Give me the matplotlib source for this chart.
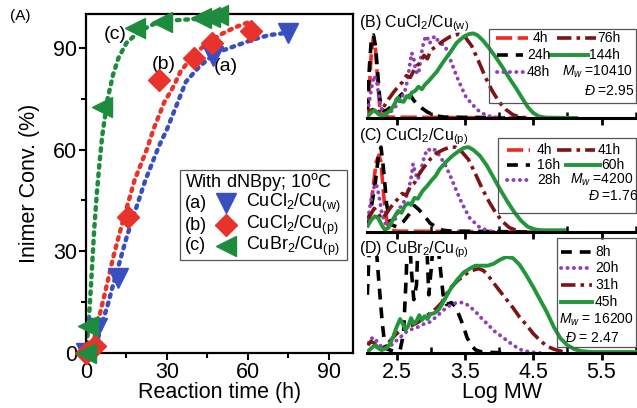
import matplotlib
matplotlib.use("Agg")
import matplotlib.pyplot as plt
from matplotlib.patches import Rectangle
from matplotlib.ticker import MultipleLocator

plt.rcParams['font.family'] = ['Liberation Sans', 'DejaVu Sans']
plt.rcParams['mathtext.fontset'] = 'custom'
plt.rcParams['mathtext.rm'] = 'Liberation Sans'
plt.rcParams['mathtext.it'] = 'Liberation Sans:italic'
plt.rcParams['mathtext.default'] = 'regular'

# ---------------- panel A: conversion vs time ----------------
t_a = [0, 4, 12, 47, 75]
conv_a = [0, 7.5, 22, 87.5, 94.5]
t_b = [0, 3.5, 15.5, 27, 40, 46.5, 61]
conv_b = [0, 2, 40, 80.5, 87, 91.5, 95]
t_c = [0, 0.8, 6, 18, 28, 42.5, 46, 49]
conv_c = [0, 8, 72.5, 96, 97.5, 98.8, 99.2, 99.6]

fit_t_a = [2, 4, 6, 8, 10, 12.5, 15, 17, 19.5, 22, 25, 27, 30, 33, 37, 42, 48, 55, 62, 68, 75]
fit_a = [0, 3, 9, 14, 20, 27, 34, 39, 45, 51, 57, 61, 66, 72, 80, 84.5, 88.5, 90.5, 92.5, 93.8, 94.5]
fit_t_b = [0, 3, 5, 8, 10, 13, 15.5, 18, 20, 22.5, 25, 29, 32, 35, 40, 45, 50, 55, 60]
fit_b = [0, 4, 11, 21, 28, 37, 44, 51, 55, 60, 66, 74, 78, 83, 88, 91.5, 94, 96, 97.5]
fit_t_c = [0, 1, 2, 3, 4, 5, 6, 8, 10, 12, 15, 20, 25, 30, 40, 49]
fit_c = [0, 9, 22, 36, 47, 56, 64, 75, 82, 87, 91.5, 95, 97, 98, 98.5, 99]

# ---------------- panel B: CuCl2/Cu(w) GPC traces ----------------
B_4h_x = [2.07, 2.10, 2.13, 2.16, 2.19, 2.22, 2.25, 2.29, 2.40, 4.45]
B_4h_y = [0.05, 0.35, 0.80, 0.95, 0.80, 0.45, 0.15, 0.03, 0.01, 0.0]
B_24h_x = [2.07, 2.10, 2.13, 2.16, 2.19, 2.22, 2.25, 2.28, 2.33, 2.40, 2.48, 2.56, 2.63,
           2.68, 2.74, 2.80, 2.88, 2.95, 3.05, 3.20, 4.45]
B_24h_y = [0.10, 0.60, 0.95, 0.98, 0.85, 0.55, 0.25, 0.10, 0.08, 0.12, 0.20, 0.27, 0.32,
           0.30, 0.22, 0.16, 0.11, 0.07, 0.03, 0.01, 0.0]
B_48h_x = [2.09, 2.13, 2.17, 2.21, 2.25, 2.29, 2.35, 2.42, 2.50, 2.56, 2.62, 2.66, 2.69,
           2.72, 2.75, 2.78, 2.82, 2.86, 2.90, 2.94, 2.98, 3.02, 3.06, 3.10, 3.15, 3.21,
           3.30, 3.38, 3.45, 3.52, 3.62, 3.72, 3.82, 3.92, 4.05]
B_48h_y = [0.15, 0.35, 0.50, 0.42, 0.20, 0.08, 0.05, 0.08, 0.15, 0.22, 0.32, 0.45, 0.62,
           0.77, 0.70, 0.55, 0.52, 0.75, 0.92, 0.97, 0.88, 0.93, 0.97, 0.92, 0.88, 0.85,
           0.66, 0.49, 0.36, 0.24, 0.15, 0.07, 0.03, 0.01, 0.0]
B_76h_x = [2.08, 2.15, 2.22, 2.30, 2.38, 2.45, 2.52, 2.58, 2.64, 2.70, 2.75, 2.80, 2.85,
           2.90, 2.95, 3.00, 3.08, 3.18, 3.28, 3.40, 3.50, 3.60, 3.70, 3.80, 3.90, 4.00,
           4.10, 4.20, 4.30, 4.45]
B_76h_y = [0.08, 0.10, 0.06, 0.12, 0.22, 0.30, 0.37, 0.42, 0.50, 0.48, 0.56, 0.62, 0.66,
           0.74, 0.70, 0.80, 0.85, 0.91, 0.96, 0.99, 0.96, 0.85, 0.67, 0.48, 0.32, 0.19,
           0.10, 0.04, 0.01, 0.0]
B_144h_x = [2.08, 2.13, 2.18, 2.24, 2.30, 2.36, 2.42, 2.47, 2.52, 2.56, 2.60, 2.65, 2.69,
            2.72, 2.77, 2.82, 2.87, 2.91, 2.96, 3.09, 3.18, 3.28, 3.38, 3.48, 3.55, 3.62,
            3.68, 3.76, 3.85, 3.95, 4.05, 4.15, 4.25, 4.35, 4.42, 4.50, 4.58, 4.68, 5.13]
B_144h_y = [0.02, 0.07, 0.09, 0.04, 0.02, 0.06, 0.10, 0.17, 0.24, 0.20, 0.19, 0.26, 0.24,
            0.30, 0.32, 0.37, 0.34, 0.39, 0.43, 0.55, 0.66, 0.77, 0.89, 0.96, 0.99, 1.00,
            0.98, 0.92, 0.83, 0.72, 0.60, 0.47, 0.35, 0.22, 0.13, 0.06, 0.02, 0.005, 0.0]

# ---------------- panel C: CuCl2/Cu(p) ----------------
C_4h_x = [2.07, 2.12, 2.16, 2.20, 2.24, 2.27, 2.30, 2.33, 2.37, 2.42, 2.50, 4.50]
C_4h_y = [0.05, 0.25, 0.55, 0.80, 0.88, 0.80, 0.50, 0.25, 0.08, 0.02, 0.01, 0.0]
C_16h_x = [2.07, 2.12, 2.18, 2.23, 2.27, 2.30, 2.33, 2.35, 2.39, 2.43, 2.50, 2.60, 2.70,
           2.76, 2.82, 2.89, 2.99, 3.09, 3.18, 3.30, 4.50]
C_16h_y = [0.10, 0.25, 0.52, 0.85, 0.97, 0.77, 0.52, 0.33, 0.15, 0.08, 0.06, 0.12, 0.22,
           0.30, 0.26, 0.20, 0.10, 0.05, 0.02, 0.01, 0.0]
C_28h_x = [2.08, 2.12, 2.16, 2.20, 2.24, 2.28, 2.33, 2.40, 2.48, 2.55, 2.62, 2.68, 2.72,
           2.74, 2.77, 2.81, 2.86, 2.91, 2.96, 3.01, 3.06, 3.12, 3.21, 3.28, 3.35, 3.43,
           3.50, 3.57, 3.65, 3.72, 3.82, 3.92]
C_28h_y = [0.15, 0.35, 0.50, 0.55, 0.42, 0.22, 0.10, 0.08, 0.15, 0.28, 0.36, 0.50, 0.66,
           0.78, 0.68, 0.60, 0.72, 0.88, 0.95, 0.92, 0.94, 0.88, 0.77, 0.65, 0.52, 0.37,
           0.26, 0.16, 0.10, 0.05, 0.02, 0.0]
C_41h_x = [2.08, 2.12, 2.17, 2.22, 2.28, 2.34, 2.40, 2.46, 2.52, 2.58, 2.64, 2.70, 2.76,
           2.82, 2.88, 2.94, 3.00, 3.08, 3.18, 3.28, 3.36, 3.45, 3.55, 3.65, 3.75, 3.85,
           3.95, 4.05, 4.15, 4.25, 4.35]
C_41h_y = [0.15, 0.20, 0.27, 0.22, 0.15, 0.20, 0.27, 0.33, 0.38, 0.44, 0.42, 0.52, 0.56,
           0.65, 0.72, 0.78, 0.84, 0.90, 0.94, 0.97, 0.97, 0.92, 0.83, 0.67, 0.50, 0.35,
           0.22, 0.12, 0.05, 0.02, 0.0]
C_60h_x = [2.08, 2.13, 2.18, 2.23, 2.28, 2.33, 2.38, 2.45, 2.52, 2.57, 2.62, 2.67, 2.71,
           2.76, 2.81, 2.88, 2.95, 3.01, 3.07, 3.13, 3.21, 3.30, 3.40, 3.48, 3.55, 3.62,
           3.72, 3.82, 3.92, 4.02, 4.12, 4.22, 4.32, 4.42, 4.52, 4.62, 4.95]
C_60h_y = [0.08, 0.14, 0.18, 0.16, 0.08, 0.02, 0.05, 0.15, 0.24, 0.22, 0.30, 0.33, 0.31,
           0.39, 0.38, 0.47, 0.53, 0.59, 0.64, 0.72, 0.79, 0.86, 0.92, 0.96, 0.97, 0.94,
           0.87, 0.76, 0.62, 0.48, 0.35, 0.23, 0.13, 0.06, 0.03, 0.02, 0.02]

# ---------------- panel D: CuBr2/Cu(p) ----------------
D_8h_x = [2.07, 2.10, 2.14, 2.18, 2.22, 2.26, 2.29, 2.32, 2.36, 2.45, 2.55, 2.60, 2.64,
          2.67, 2.71, 2.75, 2.79, 2.83, 2.88, 2.92, 2.97, 3.01, 3.06, 3.12, 3.18, 3.23,
          3.30, 3.36, 3.42, 3.48, 3.53, 3.60, 3.66, 3.75, 4.10]
D_8h_y = [0.60, 1.10, 1.50, 1.30, 0.90, 0.55, 0.30, 0.12, 0.04, 0.02, 0.03, 0.20, 0.80,
          1.50, 0.90, 0.55, 0.70, 1.50, 1.20, 1.50, 0.60, 0.90, 1.40, 1.00, 0.60, 0.50,
          0.52, 0.48, 0.38, 0.27, 0.16, 0.07, 0.03, 0.01, 0.0]
D_20h_x = [2.08, 2.13, 2.17, 2.22, 2.28, 2.35, 2.42, 2.50, 2.58, 2.66, 2.74, 2.82, 2.90,
           2.99, 3.09, 3.18, 3.28, 3.38, 3.48, 3.55, 3.65, 3.74, 3.84, 3.94, 4.04, 4.13,
           4.23, 4.33, 4.45, 4.60]
D_20h_y = [0.10, 0.15, 0.16, 0.11, 0.06, 0.05, 0.08, 0.13, 0.18, 0.23, 0.25, 0.27, 0.30,
           0.32, 0.38, 0.44, 0.49, 0.52, 0.52, 0.49, 0.43, 0.36, 0.29, 0.22, 0.17, 0.12,
           0.07, 0.03, 0.01, 0.0]
D_31h_x = [2.08, 2.12, 2.17, 2.22, 2.28, 2.35, 2.42, 2.50, 2.58, 2.66, 2.74, 2.82, 2.89,
           2.99, 3.08, 3.16, 3.23, 3.30, 3.40, 3.50, 3.60, 3.70, 3.77, 3.84, 3.91, 4.01,
           4.11, 4.21, 4.30, 4.40, 4.50, 4.60, 4.70, 4.80, 4.90, 5.00]
D_31h_y = [0.08, 0.12, 0.10, 0.06, 0.04, 0.08, 0.14, 0.20, 0.24, 0.27, 0.29, 0.32, 0.36,
           0.41, 0.46, 0.52, 0.61, 0.68, 0.75, 0.81, 0.85, 0.87, 0.85, 0.80, 0.73, 0.64,
           0.55, 0.46, 0.37, 0.29, 0.20, 0.13, 0.07, 0.04, 0.02, 0.0]
D_45h_x = [2.08, 2.13, 2.18, 2.23, 2.28, 2.35, 2.40, 2.45, 2.50, 2.55, 2.59, 2.63, 2.67,
           2.71, 2.75, 2.79, 2.83, 2.87, 2.91, 2.95, 2.99, 3.05, 3.12, 3.20, 3.28, 3.38,
           3.48, 3.57, 3.65, 3.74, 3.83, 3.92, 4.01, 4.10, 4.20, 4.30, 4.40, 4.50, 4.60,
           4.70, 4.80, 4.90, 5.00, 5.10, 5.20, 5.35, 6.02]
D_45h_y = [0.02, 0.05, 0.08, 0.05, 0.03, 0.05, 0.09, 0.17, 0.27, 0.35, 0.30, 0.24, 0.28,
           0.36, 0.30, 0.33, 0.39, 0.34, 0.38, 0.35, 0.40, 0.41, 0.45, 0.55, 0.65, 0.75,
           0.83, 0.87, 0.90, 0.90, 0.90, 0.92, 0.96, 0.99, 0.98, 0.91, 0.80, 0.68, 0.55,
           0.42, 0.27, 0.15, 0.08, 0.04, 0.02, 0.01, 0.01]

# ---------------- styles ----------------
BLUE, RED, GREEN = "#3a4fbf", "#e8322b", "#1e8c3e"
STY = {
    "red": dict(color="#ee2a24", lw=2.6, dashes=(4.5, 1.5)),
    "black": dict(color="black", lw=2.6, dashes=(3, 2.2)),
    "purple": dict(color="#8f3fb8", lw=2.8, dashes=(0.05, 1.6), dash_capstyle="round"),
    "dkred": dict(color="#7c1518", lw=2.6, dashes=(4, 1.4, 1, 1.4)),
    "green": dict(color="#23953b", lw=2.8),
}

W, H = 637, 408
fig = plt.figure(figsize=(W / 100, H / 100), dpi=100)


def rect(l, t, r, b):
    return [l / W, 1 - b / H, (r - l) / W, (b - t) / H]


# ---------------- panel A ----------------
axA = fig.add_axes(rect(86, 14, 353, 353))
fitkw = dict(lw=3.2, dashes=(0.6, 1.3), dash_capstyle="round")
axA.plot(fit_t_a, fit_a, color=BLUE, **fitkw)
axA.plot(fit_t_b, fit_b, color=RED, **fitkw)
axA.plot(fit_t_c, fit_c, color=GREEN, **fitkw)
axA.plot(t_a, conv_a, "v", color=BLUE, ms=15, clip_on=False, zorder=4)
axA.plot(t_b, conv_b, "D", color=RED, ms=11, clip_on=False, zorder=4)
axA.plot(t_c, conv_c, "<", color=GREEN, ms=15, clip_on=False, zorder=4)
axA.set_xlim(0, 98.9)
axA.set_ylim(0, 100)
axA.set_xticks([0, 30, 60, 90])
axA.set_yticks([0, 30, 60, 90])
axA.xaxis.set_minor_locator(MultipleLocator(15))
axA.yaxis.set_minor_locator(MultipleLocator(15))
axA.tick_params(which="major", direction="out", length=5, width=1.5, labelsize=15.5, pad=1.5)
axA.tick_params(which="minor", direction="out", length=3.5, width=1.5)
for s in axA.spines.values():
    s.set_linewidth(1.6)
axA.set_xlabel("Reaction time (h)", fontsize=15.5, labelpad=-0.5)
axA.set_ylabel("Inimer Conv. (%)", fontsize=15.5, labelpad=9)
axA.text(47.5, 87, "(a)", fontsize=14, va="top", ha="left")
axA.text(24.5, 85, "(b)", fontsize=14, va="center", ha="left")
axA.text(6.5, 94, "(c)", fontsize=14, va="center", ha="left")


# ---------------- GPC panels ----------------
def gpc_axes(box, curves, labels=False, ytop=1.04):
    ax = fig.add_axes(rect(*box))
    for x, y, key in curves:
        ax.plot(x, y, **STY[key])
    ax.set_xlim(2.065, 6.02)
    ax.set_ylim(0, ytop)
    ax.set_yticks([])
    for side in ("left", "right", "top"):
        ax.spines[side].set_visible(False)
    ax.spines["bottom"].set_linewidth(2.2)
    ax.set_xticks([2.5, 3.5, 4.5, 5.5])
    ax.xaxis.set_minor_locator(MultipleLocator(0.5))
    ax.tick_params(which="major", direction="out", length=5, width=2, labelsize=15.5, pad=1.5)
    ax.tick_params(which="minor", direction="in", length=4, width=1.8)
    ax.tick_params(labelbottom=labels)
    ax.patch.set_alpha(0)
    return ax


axB = gpc_axes((367, 30, 637, 118), [
    (B_4h_x, B_4h_y, "red"), (B_24h_x, B_24h_y, "black"), (B_48h_x, B_48h_y, "purple"),
    (B_76h_x, B_76h_y, "dkred"), (B_144h_x, B_144h_y, "green")])
axC = gpc_axes((367, 141, 637, 232), [
    (C_4h_x, C_4h_y, "red"), (C_16h_x, C_16h_y, "black"), (C_28h_x, C_28h_y, "purple"),
    (C_41h_x, C_41h_y, "dkred"), (C_60h_x, C_60h_y, "green")])
axD = gpc_axes((367, 256, 637, 353), [
    (D_8h_x, D_8h_y, "black"), (D_20h_x, D_20h_y, "purple"),
    (D_31h_x, D_31h_y, "dkred"), (D_45h_x, D_45h_y, "green")], labels=True, ytop=1.0)
axD.set_xlabel("Log MW", fontsize=15.5, labelpad=-0.5)

# ---------------- overlay for legends and labels (pixel coords) ----------------
ov = fig.add_axes([0, 0, 1, 1], zorder=10)
ov.set_xlim(0, W)
ov.set_ylim(H, 0)
ov.axis("off")
ov.patch.set_alpha(0)


def sample(x0, x1, y, key):
    ov.plot([x0, x1], [y, y], **STY[key])


def box(l, t, r, b):
    ov.add_patch(Rectangle((l, t), r - l, b - t, fill=False, ec="#555555", lw=0.9))


ov.text(10, 16, "(A)", fontsize=11, va="center")

# legend of panel A
box(180, 170, 347, 260)
ov.text(185, 182, r"With dNBpy; 10$^{\mathrm{o}}$C", fontsize=13, va="center")
leg_rows = [(203, "(a)", "v", BLUE, 15, r"CuCl$_2$/Cu$_{(w)}$"),
            (225, "(b)", "D", RED, 11, r"CuCl$_2$/Cu$_{(p)}$"),
            (246, "(c)", "<", GREEN, 15, r"CuBr$_2$/Cu$_{(p)}$")]
for y, tag, mk, col, ms, lab in leg_rows:
    ov.text(185, y, tag, fontsize=13, va="center")
    ov.plot([226], [y], mk, color=col, ms=ms)
    ov.text(246, y, lab, fontsize=13, va="center")

fs = 10
# panel B
ov.text(359, 24, r"(B) CuCl$_2$/Cu$_{(w)}$", fontsize=11.5, va="center")
box(489, 29, 636, 103)
sample(496, 528, 38, "red"); ov.text(533, 38, "4h", fontsize=fs, va="center")
sample(557, 596, 38, "dkred"); ov.text(597, 38, "76h", fontsize=fs, va="center")
sample(497, 523, 55, "black"); ov.text(527, 55, "24h", fontsize=fs, va="center")
sample(550, 588, 55, "green"); ov.text(589, 55, "144h", fontsize=fs, va="center")
sample(497, 523, 72, "purple"); ov.text(527, 72, "48h", fontsize=fs, va="center")
ov.text(562, 72, r"$\mathit{M_w}$ =10410", fontsize=fs, va="center")
ov.text(584, 91, r"$\mathit{Đ}$ =2.95", fontsize=fs, va="center")

# panel C
ov.text(359, 137, r"(C) CuCl$_2$/Cu$_{(p)}$", fontsize=11.5, va="center")
box(498, 138, 636, 213)
sample(507, 530, 150, "red"); ov.text(537, 150, "4h", fontsize=fs, va="center")
sample(557, 595, 150, "dkred"); ov.text(598, 150, "41h", fontsize=fs, va="center")
sample(507, 530, 165, "black"); ov.text(537, 165, "16h", fontsize=fs, va="center")
sample(566, 600, 165, "green"); ov.text(601, 165, "60h", fontsize=fs, va="center")
sample(507, 530, 180, "purple"); ov.text(537, 180, "28h", fontsize=fs, va="center")
ov.text(570, 180, r"$\mathit{M_w}$ =4200", fontsize=fs, va="center")
ov.text(588, 196, r"$\mathit{Đ}$ =1.76", fontsize=fs, va="center")

# panel D
ov.text(359, 250, r"(D) CuBr$_2$/Cu$_{(p)}$", fontsize=11.5, va="center")
box(557, 238, 636, 347)
sample(561, 592, 252, "black"); ov.text(595, 252, "8h", fontsize=fs, va="center")
sample(561, 592, 268, "purple"); ov.text(595, 268, "20h", fontsize=fs, va="center")
sample(561, 592, 285, "dkred"); ov.text(595, 285, "31h", fontsize=fs, va="center")
sample(561, 592, 302, "green"); ov.text(595, 302, "45h", fontsize=fs, va="center")
ov.text(559, 320, r"$\mathit{M_w}$ = 16200", fontsize=fs, va="center")
ov.text(565, 338, r"$\mathit{Đ}$ = 2.47", fontsize=fs, va="center")

fig.savefig("out.png", dpi=100)
